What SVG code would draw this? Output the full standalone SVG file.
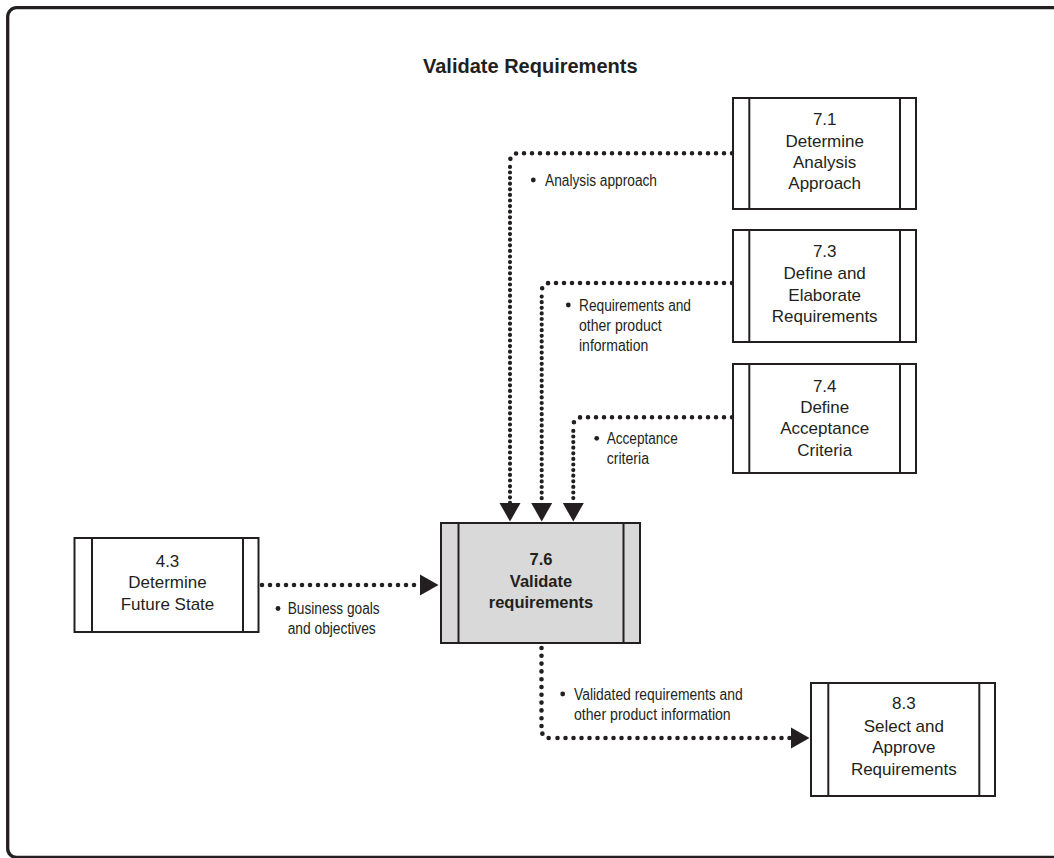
<svg xmlns="http://www.w3.org/2000/svg" width="1054" height="858" viewBox="0 0 1054 858">
<defs>
<style>
.frame{fill:none;stroke:#231f20;stroke-width:3.3}
.box{fill:#fff;stroke:#231f20;stroke-width:2}
.box.main{fill:#d9d9da}
.bar{stroke:#231f20;stroke-width:2}
.nt{font-family:"Liberation Sans",Arial,sans-serif;font-size:17px;fill:#231f20;text-anchor:middle}
.nt.b{font-weight:bold;font-size:16.5px}
.title{font-family:"Liberation Sans",Arial,sans-serif;font-size:20px;font-weight:bold;fill:#231f20}
.lbl{font-family:"Liberation Sans Narrow","Liberation Sans",Arial,sans-serif;font-size:16px;fill:#231f20}
.h{fill:none;stroke:#231f20;stroke-width:4.6;stroke-linecap:round;stroke-dasharray:0 8}
.v{fill:none;stroke:#231f20;stroke-width:4.2;stroke-linecap:round;stroke-dasharray:0 5.6}
.v8{fill:none;stroke:#231f20;stroke-width:4.6;stroke-linecap:round;stroke-dasharray:0 7.8}
.dot{fill:#231f20}
</style>
<marker id="ah" markerUnits="userSpaceOnUse" markerWidth="20" markerHeight="22" viewBox="0 -11 20 22" refX="0" refY="0" orient="auto">
<path d="M0,-10.5 L18.5,0 L0,10.5 z" fill="#231f20"/>
</marker>
</defs>
<rect width="1054" height="858" fill="#fff"/>
<path class="frame" d="M1070,7.7 H16.7 A9,9 0 0 0 7.7,16.7 V848.5 A9,9 0 0 0 16.7,857.5 H1070"/>
<text class="title" x="423" y="73">Validate Requirements</text>

<g id="connectors">
<path class="h" d="M732,153.3 H518 A8,8 0 0 0 510,161.3"/>
<path class="v" d="M510,166.9 V503" marker-end="url(#ah)"/>
<path class="h" d="M732,283 H549.7 A8,8 0 0 0 541.7,291"/>
<path class="v" d="M541.7,296.6 V503" marker-end="url(#ah)"/>
<path class="h" d="M732,417.3 H581.3 A8,8 0 0 0 573.3,425.3"/>
<path class="v" d="M573.3,430.9 V503" marker-end="url(#ah)"/>
<path class="h" d="M262,585 H420" marker-end="url(#ah)"/>
<path class="v8" d="M541.5,648 V730 A8,8 0 0 0 549.5,738"/>
<path class="h" d="M557.5,738 H791" marker-end="url(#ah)"/>
</g>

<g id="labels">
<circle class="dot" cx="533.3" cy="180" r="2.4"/>
<text class="lbl" x="545" y="186" textLength="112" lengthAdjust="spacingAndGlyphs">Analysis approach</text>
<circle class="dot" cx="568.3" cy="305" r="2.4"/>
<text class="lbl" x="579" y="310.7" textLength="112" lengthAdjust="spacingAndGlyphs">Requirements and</text>
<text class="lbl" x="579" y="330.7" textLength="82.7" lengthAdjust="spacingAndGlyphs">other product</text>
<text class="lbl" x="579" y="350.7" textLength="69.3" lengthAdjust="spacingAndGlyphs">information</text>
<circle class="dot" cx="596.7" cy="438.3" r="2.4"/>
<text class="lbl" x="606.7" y="444" textLength="71" lengthAdjust="spacingAndGlyphs">Acceptance</text>
<text class="lbl" x="606.7" y="464" textLength="42.3" lengthAdjust="spacingAndGlyphs">criteria</text>
<circle class="dot" cx="278" cy="608.5" r="2.4"/>
<text class="lbl" x="287.7" y="614.3" textLength="92" lengthAdjust="spacingAndGlyphs">Business goals</text>
<text class="lbl" x="287.7" y="634" textLength="88" lengthAdjust="spacingAndGlyphs">and objectives</text>
<circle class="dot" cx="562.7" cy="694" r="2.4"/>
<text class="lbl" x="574" y="700" textLength="168.7" lengthAdjust="spacingAndGlyphs">Validated requirements and</text>
<text class="lbl" x="574" y="720" textLength="156.7" lengthAdjust="spacingAndGlyphs">other product information</text>
</g>

<g id="node-7-1">
<rect class="box" x="733" y="98" width="183" height="111"/>
<line class="bar" x1="749.3" y1="98" x2="749.3" y2="209"/>
<line class="bar" x1="900" y1="98" x2="900" y2="209"/>
<text class="nt" x="824.7" y="125">7.1</text>
<text class="nt" x="824.7" y="147">Determine</text>
<text class="nt" x="824.7" y="168">Analysis</text>
<text class="nt" x="824.7" y="189">Approach</text>
</g>

<g id="node-7-3">
<rect class="box" x="733" y="230" width="183" height="112"/>
<line class="bar" x1="749.3" y1="230" x2="749.3" y2="342"/>
<line class="bar" x1="900" y1="230" x2="900" y2="342"/>
<text class="nt" x="824.7" y="256.7">7.3</text>
<text class="nt" x="824.7" y="279">Define and</text>
<text class="nt" x="824.7" y="300.7">Elaborate</text>
<text class="nt" x="824.7" y="321.7">Requirements</text>
</g>

<g id="node-7-4">
<rect class="box" x="733" y="364" width="183" height="109"/>
<line class="bar" x1="749.3" y1="364" x2="749.3" y2="473"/>
<line class="bar" x1="900" y1="364" x2="900" y2="473"/>
<text class="nt" x="824.7" y="391.7">7.4</text>
<text class="nt" x="824.7" y="412.7">Define</text>
<text class="nt" x="824.7" y="434">Acceptance</text>
<text class="nt" x="824.7" y="455.7">Criteria</text>
</g>

<g id="node-7-6">
<rect class="box main" x="441" y="523" width="199" height="120"/>
<line class="bar" x1="458.5" y1="523" x2="458.5" y2="643"/>
<line class="bar" x1="623.5" y1="523" x2="623.5" y2="643"/>
<text class="nt b" x="541" y="565">7.6</text>
<text class="nt b" x="541" y="587">Validate</text>
<text class="nt b" x="541" y="608">requirements</text>
</g>

<g id="node-4-3">
<rect class="box" x="74.5" y="538" width="184" height="94"/>
<line class="bar" x1="92" y1="538" x2="92" y2="632"/>
<line class="bar" x1="243" y1="538" x2="243" y2="632"/>
<text class="nt" x="167.5" y="566.7">4.3</text>
<text class="nt" x="167.5" y="588.3">Determine</text>
<text class="nt" x="167.5" y="610">Future State</text>
</g>

<g id="node-8-3">
<rect class="box" x="811" y="683" width="184" height="113"/>
<line class="bar" x1="828.3" y1="683" x2="828.3" y2="796"/>
<line class="bar" x1="979.3" y1="683" x2="979.3" y2="796"/>
<text class="nt" x="903.8" y="709.3">8.3</text>
<text class="nt" x="903.8" y="731.7">Select and</text>
<text class="nt" x="903.8" y="753">Approve</text>
<text class="nt" x="903.8" y="775">Requirements</text>
</g>
</svg>
